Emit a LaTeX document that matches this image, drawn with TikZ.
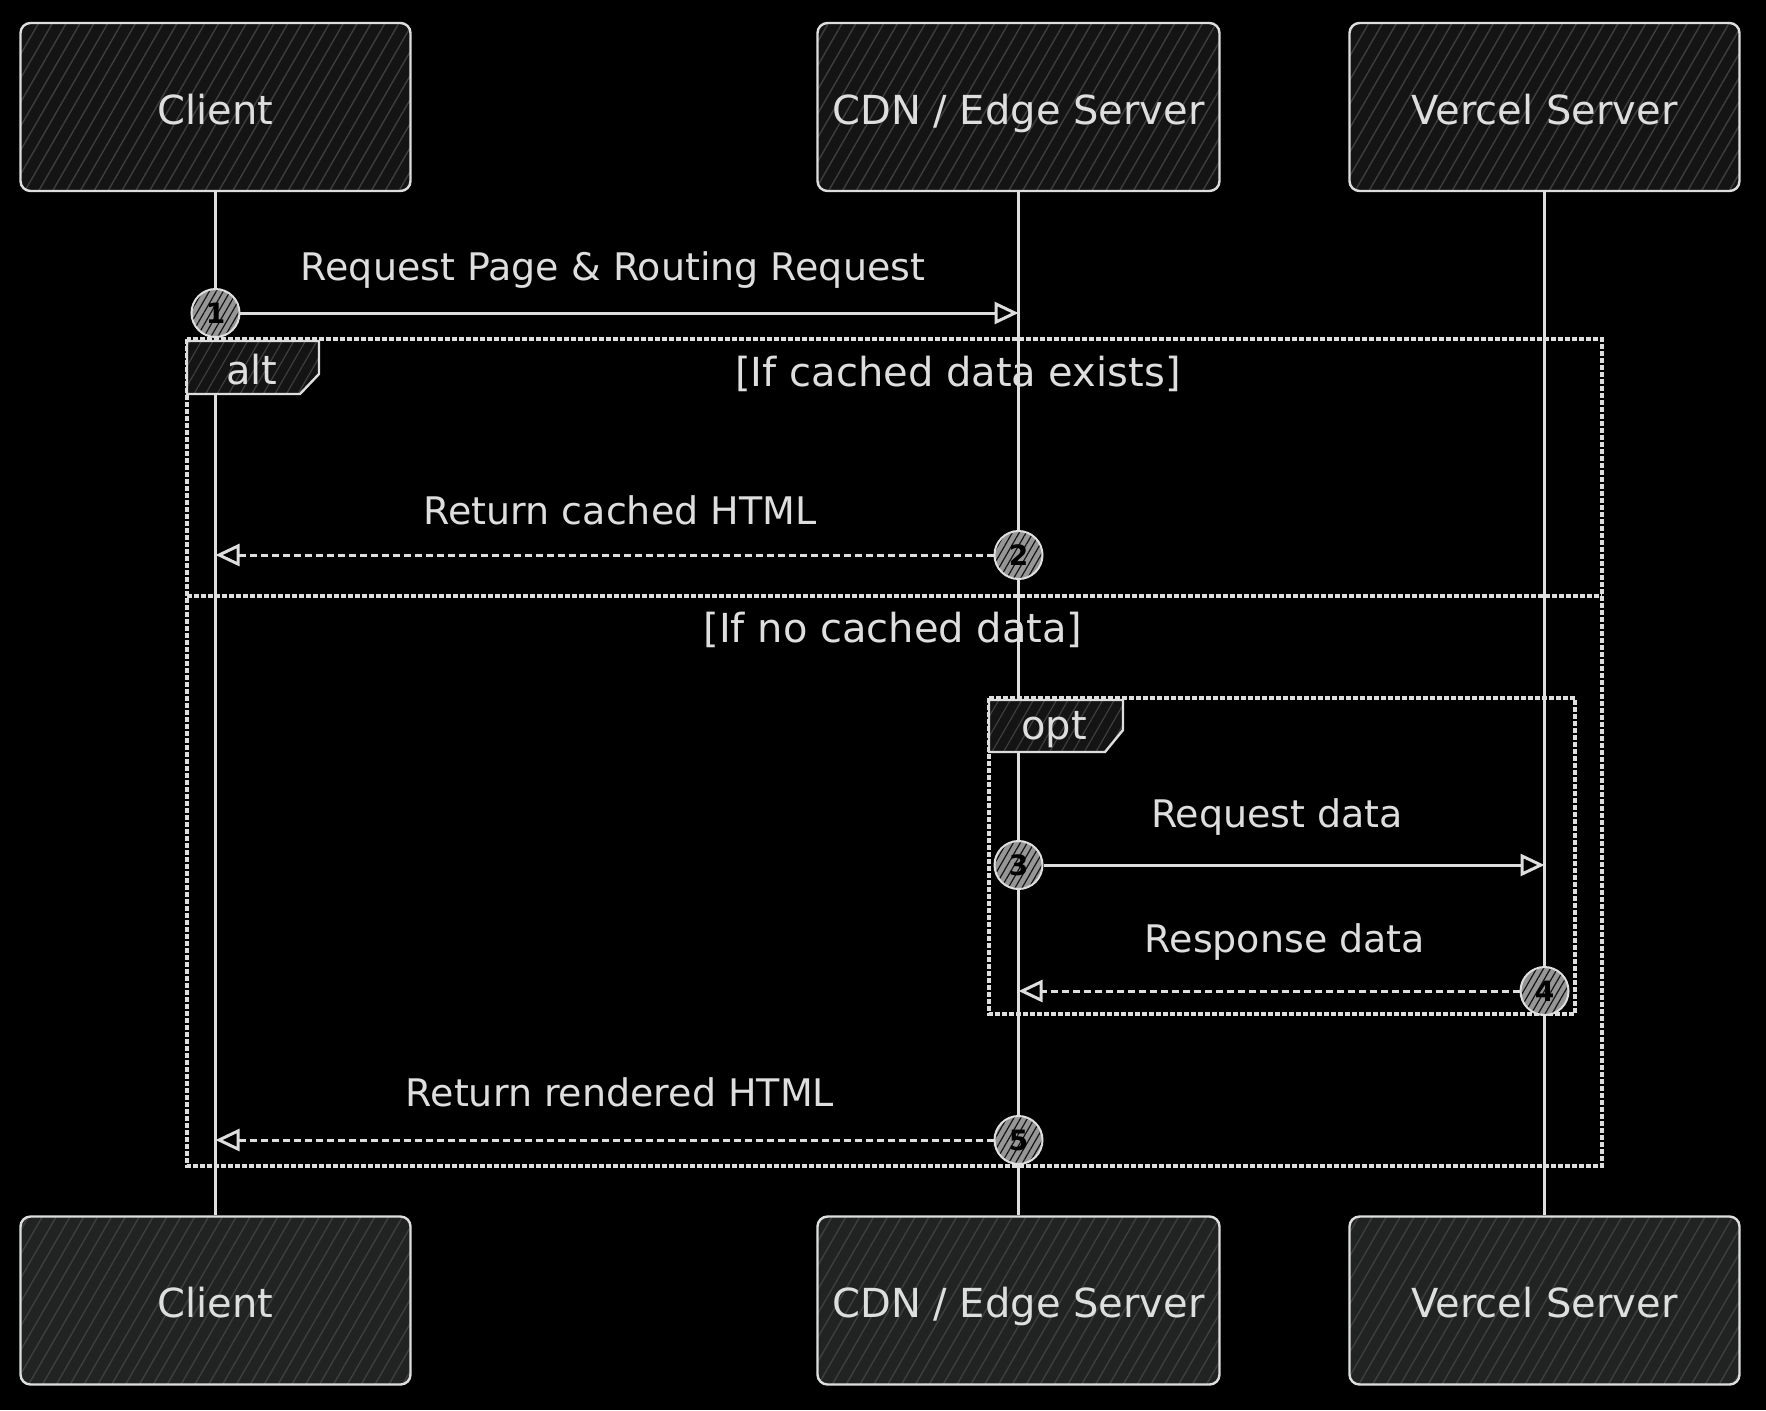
\documentclass[tikz,border=0pt]{standalone}
\usepackage{fontspec}
\setmainfont{DejaVu Sans}
\usetikzlibrary{positioning,arrows.meta,calc,patterns.meta}
\definecolor{ink}{RGB}{222,222,222}
\definecolor{boxfill}{RGB}{20,20,20}
\definecolor{boxfilllow}{RGB}{33,35,35}
\definecolor{hatch}{RGB}{62,62,62}
\definecolor{dotfill}{RGB}{150,150,150}
\tikzset{
>={Triangle[open,length=12pt,width=11pt]},
  actor/.style={
    rectangle,
    rounded corners=5pt,
    draw=ink, line width=1.2pt,
    minimum width=195pt,
    minimum height=84pt,
    text=ink,
    text height=17pt, text depth=0pt,
    font=\fontsize{20}{22}\selectfont,
    preaction={fill=boxfill},
    pattern={Lines[angle=60,distance=6pt,line width=0.7pt]},
    pattern color=hatch},
  actorlow/.style={actor, preaction={fill=boxfilllow}},
  widebox/.style={minimum width=201pt},
  lifeline/.style={draw=ink, line width=1.6pt},
  msg/.style={draw=ink, line width=1.5pt},
  reply/.style={msg, dash pattern=on 3.5pt off 2pt},
  msglabel/.style={text=ink, font=\fontsize{19}{21}\selectfont},
  stepnum/.style={
    circle,
    draw=ink, line width=1pt,
    minimum size=24pt, inner sep=0pt,
    preaction={fill=dotfill},
    pattern={Lines[angle=60,distance=3pt,line width=0.6pt]},
    pattern color=boxfill,
    font=\fontsize{14}{14}\selectfont\bfseries},
  frame/.style={draw=ink, line width=2pt, dash pattern=on 2.5pt off 1pt},
  tab/.style={draw=ink, line width=1.2pt, preaction={fill=boxfill},
    pattern={Lines[angle=60,distance=5pt,line width=0.6pt]}, pattern color=hatch},
  guard/.style={text=ink, font=\fontsize{20}{22}\selectfont},
}

\begin{document}
\begin{tikzpicture}[x=0.5pt,y=-0.5pt]
  \fill[black] (0,0) rectangle (1766,1410);
  \useasboundingbox (0,0) rectangle (1766,1410);

  % participants
  \node[actor] (client) at (215.5,107) {Client};
  \node[actor, widebox] (cdn) at (1018.5,107) {CDN / Edge Server};
  \node[actor] (vercel) at (1544.5,107) {Vercel Server};
  \node[actorlow] (clientb) at (215.5,1300.5) {Client};
  \node[actorlow, widebox] (cdnb) at (1018.5,1300.5) {CDN / Edge Server};
  \node[actorlow] (vercelb) at (1544.5,1300.5) {Vercel Server};

  \draw[lifeline] (client) -- (clientb);
  \draw[lifeline] (cdn) -- (cdnb);
  \draw[lifeline] (vercel) -- (vercelb);

  % frames
  \draw[frame] (187,339) rectangle (1602,1166);
  \draw[frame] (187,596) -- (1602,596);
  \draw[tab] (187,341) -- (319,341) -- (319,374) -- (300,394) -- (187,394) -- cycle;
  \node[guard] (altlbl) at (252,370) {alt};
  \node[guard] (g1) at (958,374) {[If cached data exists]};
  \node[guard] (g2) at (893,630) {[If no cached data]};

  \draw[frame] (989,698) rectangle (1575,1014);
  \draw[tab] (989,700) -- (1123,700) -- (1123,730) -- (1105,752) -- (989,752) -- cycle;
  \node[guard] (optlbl) at (1054,730) {opt};

  % messages
  \node[stepnum] (n1) at (client |- 0,313) {1};
  \coordinate (t1) at (cdn |- n1);
  \draw[msg,->] (n1) -- (t1);
  \node[msglabel] (l1) at (613,270) {Request Page \& Routing Request};

  \node[stepnum] (n2) at (cdn |- 0,555) {2};
  \coordinate (t2) at (client |- n2);
  \draw[reply,->] (n2) -- (t2);
  \node[msglabel] (l2) at (620,510) {Return cached HTML};

  \node[stepnum] (n3) at (cdn |- 0,865) {3};
  \coordinate (t3) at (vercel |- n3);
  \draw[msg,->] (n3) -- (t3);
  \node[msglabel] (l3) at (1277,817) {Request data};

  \node[stepnum] (n4) at (vercel |- 0,991) {4};
  \coordinate (t4) at (cdn |- n4);
  \draw[reply,->] (n4) -- (t4);
  \node[msglabel] (l4) at (1285,942) {Response data};

  \node[stepnum] (n5) at (cdn |- 0,1140) {5};
  \coordinate (t5) at (client |- n5);
  \draw[reply,->] (n5) -- (t5);
  \node[msglabel] (l5) at (620,1092) {Return rendered HTML};
\end{tikzpicture}
\end{document}
